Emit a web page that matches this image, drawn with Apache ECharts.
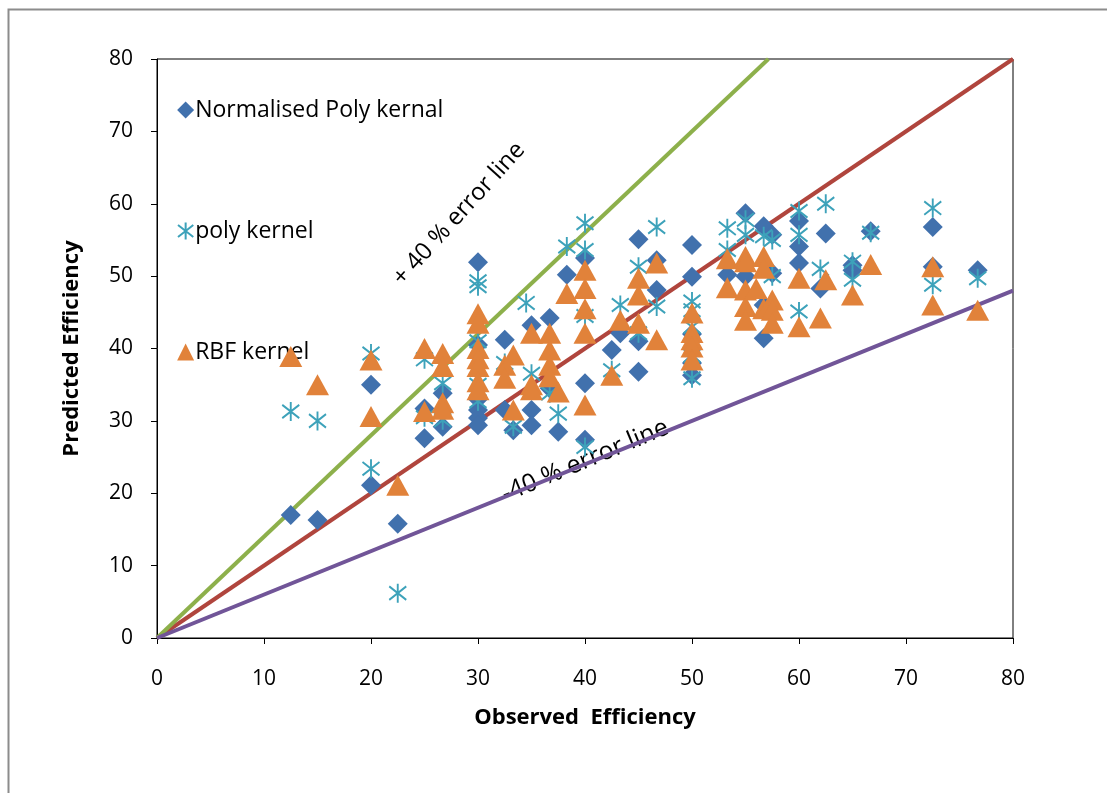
<!DOCTYPE html>
<html>
<head>
<meta charset="utf-8">
<title>Observed vs Predicted Efficiency</title>
<script src="https://cdn.jsdelivr.net/npm/echarts@6/dist/echarts.min.js"></script>
<style>
  html, body { margin: 0; padding: 0; background: #fff; }
  #chart { width: 1107px; height: 793px; }
</style>
</head>
<body>
<div id="chart"></div>
<script>
// values: [observed, predicted]
var normPoly = [
  [12.5, 17.0], [15, 16.3], [20, 35.0], [20, 21.1], [22.5, 15.8], [25, 27.6], [25, 31.7],
  [26.7, 29.2], [26.7, 33.8], [30, 51.9], [30, 40.5], [30, 33.0], [30, 31.5], [30, 30.4],
  [30, 29.4], [32.5, 41.2], [32.5, 31.5], [33.3, 28.7], [35, 43.2], [35, 31.5], [35, 29.4],
  [36.7, 44.2], [36.7, 34.5], [37.5, 28.5], [38.3, 50.2], [40, 52.5], [40, 35.2], [40, 27.4],
  [42.5, 39.8], [43.3, 42.1], [45, 55.1], [45, 41.0], [45, 36.8], [46.7, 52.2], [46.7, 48.1],
  [50, 54.3], [50, 49.9], [50, 42.0], [50, 40.0], [50, 38.0], [50, 36.3], [53.3, 50.2],
  [55, 58.7], [55, 50.0], [56.7, 56.9], [56.7, 46.0], [56.7, 41.4], [57.5, 55.7], [57.5, 50.4],
  [60, 57.6], [60, 54.1], [60, 51.8], [62, 48.3], [62.5, 55.9], [65, 50.8], [65, 51.5],
  [66.7, 56.2], [72.5, 56.8], [72.5, 51.3], [76.7, 50.8]
];
var polyKernel = [
  [12.5, 31.3], [15, 30.0], [20, 39.3], [20, 23.4], [22.5, 6.2], [25, 38.5], [25, 30.5],
  [26.7, 35.2], [26.7, 30.1], [30, 49.3], [30, 48.6], [30, 41.0], [30, 35.0], [30, 32.7],
  [32.5, 38.0], [33.3, 29.2], [34.5, 46.3], [35, 36.5], [36.7, 33.8], [37.5, 31.0],
  [38.3, 54.1], [40, 57.3], [40, 53.6], [40, 44.5], [40, 26.4], [42.5, 37.0], [43.3, 46.0],
  [45, 51.3], [45, 42.1], [46.7, 56.8], [46.7, 45.8], [50, 46.5], [50, 45.3], [50, 43.0],
  [50, 39.0], [50, 35.9], [53.3, 56.6], [53.3, 53.6], [55, 57.8], [55, 55.7], [56.7, 55.5],
  [57.5, 55.0], [57.5, 50.0], [60, 59.0], [60, 55.7], [60, 45.1], [62, 51.0], [62.5, 60.0],
  [65, 52.0], [65, 49.5], [66.7, 56.0], [72.5, 59.4], [72.5, 48.8], [76.7, 49.7]
];
var rbfKernel = [
  [12.5, 38.9], [15, 35.0], [20, 38.4], [20, 30.6], [22.5, 21.1], [25, 40.0], [25, 31.3],
  [26.7, 39.3], [26.7, 37.5], [26.7, 32.5], [26.7, 31.6], [30, 44.8], [30, 43.5], [30, 40.0],
  [30, 38.6], [30, 37.5], [30, 35.4], [30, 34.3], [32.5, 37.7], [32.5, 35.9], [33.3, 39.1],
  [33.3, 31.5], [35, 42.1], [35, 35.0], [35, 34.3], [36.7, 42.1], [36.7, 39.8], [36.7, 37.7],
  [36.7, 36.1], [37.5, 34.0], [38.3, 47.6], [40, 50.8], [40, 48.3], [40, 45.5], [40, 42.1],
  [40, 32.2], [42.5, 36.3], [43.3, 43.9], [45, 49.7], [45, 47.4], [45, 43.5], [46.7, 51.8],
  [46.7, 41.2], [50, 44.9], [50, 42.2], [50, 41.2], [50, 40.2], [50, 38.4], [53.3, 52.4],
  [53.3, 48.4], [55, 52.7], [55, 52.0], [55, 48.1], [55, 45.8], [55, 43.9], [56.7, 52.7],
  [56.7, 51.1], [56, 48.3], [56.7, 45.5], [57.5, 46.7], [57.5, 45.3], [57.5, 43.5],
  [60, 49.7], [60, 43.0], [62, 44.2], [62.5, 49.5], [65, 47.4], [66.7, 51.6], [72.5, 51.3],
  [72.5, 46.0], [76.7, 45.3]
];
// reference lines
var perfectLine = [[0, 0], [80, 80]];
var plusLine = [[0, 0], [57.14, 80]];
var minusLine = [[0, 0], [80, 48]];

var seriesNames = ['Normalised Poly kernal', 'poly kernel', 'RBF kernel'];
var xTitle = 'Observed  Efficiency';
var yTitle = 'Predicted Efficiency';

var font = '"Open Sans", "Liberation Sans", sans-serif';
var starPath = 'path://M5,0L5,10M0.5,1.5L9.5,8.5M9.5,1.5L0.5,8.5';

var chart = echarts.init(document.getElementById('chart'));

var axisCommon = {
  type: 'value', min: 0, max: 80, interval: 10,
  axisLine: { show: true, lineStyle: { color: '#000', width: 1 } },
  axisTick: { show: true, inside: false, length: 6, lineStyle: { color: '#000' } },
  splitLine: { show: false },
  axisLabel: { color: '#000', fontSize: 21, fontFamily: font },
  nameLocation: 'middle',
  nameTextStyle: { color: '#000', fontSize: 22, fontWeight: 'bold', fontFamily: font }
};

chart.setOption({
  animation: false,
  backgroundColor: '#fff',
  grid: {
    left: 157, top: 59, right: 94, bottom: 155,
    show: true, borderColor: '#000', borderWidth: 1, backgroundColor: 'transparent'
  },
  xAxis: echarts.util.merge({
    name: xTitle, nameGap: 69,
    axisLabel: { margin: 31 }
  }, axisCommon, true),
  yAxis: echarts.util.merge({
    name: yTitle, nameGap: 74,
    axisLabel: { margin: 24 }
  }, axisCommon, true),
  legend: {
    data: seriesNames,
    orient: 'vertical',
    left: 172, top: 92,
    itemWidth: 17, itemHeight: 17,
    itemGap: 95,
    textStyle: { color: '#000', fontSize: 23, fontFamily: font, lineHeight: 26, padding: [0, 0, 0, -4] }
  },
  graphic: [
    { type: 'rect', left: 6, top: 7, shape: { width: 1300, height: 1000 },
      style: { fill: 'none', stroke: '#8c8c8c', lineWidth: 2 }, silent: true },
    { type: 'text', x: 459, y: 214, rotation: 47.8 * Math.PI / 180,
      style: { text: '+ 40 % error line', fill: '#000', font: '24px ' + font,
               textAlign: 'center', textVerticalAlign: 'middle' } },
    { type: 'text', x: 585, y: 461, rotation: 22.7 * Math.PI / 180,
      style: { text: '-40 % error line', fill: '#000', font: '25px ' + font,
               textAlign: 'center', textVerticalAlign: 'middle' } }
  ],
  series: [
    { name: 'perfect', type: 'line', data: perfectLine, symbol: 'none', z: 1,
      lineStyle: { color: '#B0453D', width: 4 } },
    { name: 'plus40', type: 'line', data: plusLine, symbol: 'none', z: 1,
      lineStyle: { color: '#8DB04B', width: 4 } },
    { name: 'minus40', type: 'line', data: minusLine, symbol: 'none', z: 1,
      lineStyle: { color: '#715598', width: 4 } },
    { name: seriesNames[0], type: 'scatter', data: normPoly, z: 3,
      symbol: 'diamond', symbolSize: 20,
      itemStyle: { color: '#4171AD', opacity: 1 } },
    { name: seriesNames[1], type: 'scatter', data: polyKernel, z: 4,
      symbol: starPath, symbolSize: [17, 19], symbolKeepAspect: false,
      itemStyle: { color: 'rgba(0,0,0,0)', borderColor: '#3DA2BA', borderWidth: 2, opacity: 1 } },
    { name: seriesNames[2], type: 'scatter', data: rbfKernel, z: 5,
      symbol: 'triangle', symbolSize: [23, 21],
      itemStyle: { color: '#E1823A', opacity: 1 } }
  ]
});
</script>
</body>
</html>
